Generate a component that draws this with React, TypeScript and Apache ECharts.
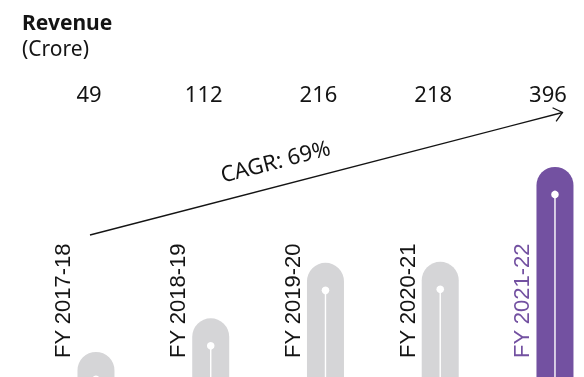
import React, { useEffect, useRef } from "react";
import * as echarts from "echarts";

const categories = ["FY 2017-18", "FY 2018-19", "FY 2019-20", "FY 2020-21", "FY 2021-22"];
const revenue = [49, 112, 216, 218, 396];
const valueLabels = ["49", "112", "216", "218", "396"];
const cagrLabel = "CAGR: 69%";

const GRAY = "#d5d5d7";
const PURPLE = "#7351a1";
const TEXT = "#141414";

export default function App() {
  const ref = useRef<HTMLDivElement>(null);

  useEffect(() => {
    if (!ref.current) return;
    const chart = echarts.init(ref.current, null, { renderer: "svg" });

    const ax = 90, ay = 235, bx = 562.5, by = 112.5;
    const len = Math.hypot(ax - bx, ay - by);
    const ux = (ax - bx) / len, uy = (ay - by) / len;
    const headLen = 11, headAng = (40 * Math.PI) / 180;
    const rot = (a: number) => [
      bx + headLen * (ux * Math.cos(a) - uy * Math.sin(a)),
      by + headLen * (ux * Math.sin(a) + uy * Math.cos(a)),
    ];
    const h1 = rot(headAng), h2 = rot(-headAng);
    const angle = Math.atan2(ay - by, bx - ax);

    const last = revenue.length - 1;

    chart.setOption({
      animation: false,
      title: {
        text: "Revenue",
        subtext: "(Crore)",
        left: 17,
        top: 6,
        itemGap: 5,
        textStyle: { fontFamily: "Noto Sans", fontSize: 21, fontWeight: "bold", color: TEXT },
        subtextStyle: { fontFamily: "Noto Sans", fontSize: 21, color: TEXT },
      },
      grid: {
        left: 38.6,
        top: 164.8,
        width: 573.75,
        height: 213.2,
        outerBoundsMode: "none",
        containLabel: false,
      },
      xAxis: {
        type: "category",
        data: categories,
        show: false,
      },
      yAxis: {
        type: "value",
        min: 0,
        max: 400,
        show: false,
        splitLine: { show: false },
      },
      series: [
        {
          type: "bar",
          data: revenue.map((v, i) => ({
            value: v,
            itemStyle: { color: i === last ? PURPLE : GRAY },
          })),
          barWidth: 37,
          itemStyle: { borderRadius: [18.5, 18.5, 0, 0] },
          silent: true,
          z: 2,
        },
        {
          type: "custom",
          z: 5,
          clip: false,
          data: revenue.map((v, i) => [i, v]),
          encode: { x: 0, y: 1 },
          renderItem: (params: any, api: any) => {
            const i = api.value(0);
            const top = api.coord([i, api.value(1)]);
            const base = api.coord([i, 0]);
            const cx = top[0];
            const dotY = top[1] + 27.5;
            const isLast = i === last;
            return {
              type: "group",
              children: [
                {
                  type: "line",
                  shape: { x1: cx, y1: dotY, x2: cx, y2: base[1] },
                  style: { stroke: "#ffffff", lineWidth: 1.4 },
                },
                {
                  type: "circle",
                  shape: { cx, cy: dotY, r: 3.8 },
                  style: { fill: "#ffffff" },
                },
                {
                  type: "text",
                  x: cx - 33,
                  y: 358,
                  rotation: Math.PI / 2,
                  style: {
                    text: categories[i],
                    x: 0,
                    y: 0,
                    align: "left",
                    verticalAlign: "middle",
                    fontFamily: "Liberation Sans",
                    fontSize: 22,
                    fill: isLast ? PURPLE : TEXT,
                  },
                },
                {
                  type: "text",
                  x: cx - 7,
                  y: 93,
                  style: {
                    text: valueLabels[i],
                    x: 0,
                    y: 0,
                    align: "center",
                    verticalAlign: "middle",
                    fontFamily: "Noto Sans",
                    fontSize: 22,
                    fill: TEXT,
                  },
                },
              ],
            };
          },
        },
      ],
      graphic: [
        {
          type: "line",
          shape: { x1: ax, y1: ay, x2: bx, y2: by },
          style: { stroke: TEXT, lineWidth: 1.3 },
        },
        {
          type: "polyline",
          shape: { points: [h1, [bx, by], h2] },
          style: { stroke: TEXT, lineWidth: 1.3, fill: null },
        },
        {
          type: "text",
          x: 275,
          y: 160,
          rotation: angle,
          style: {
            text: cagrLabel,
            x: 0,
            y: 0,
            align: "center",
            verticalAlign: "middle",
            fontFamily: "Noto Sans",
            fontSize: 22,
            fill: TEXT,
          },
        },
      ],
    });

    return () => chart.dispose();
  }, []);

  return (
    <div
      ref={ref}
      style={{ position: "fixed", left: 0, top: 0, width: 584, height: 377 }}
    />
  );
}
